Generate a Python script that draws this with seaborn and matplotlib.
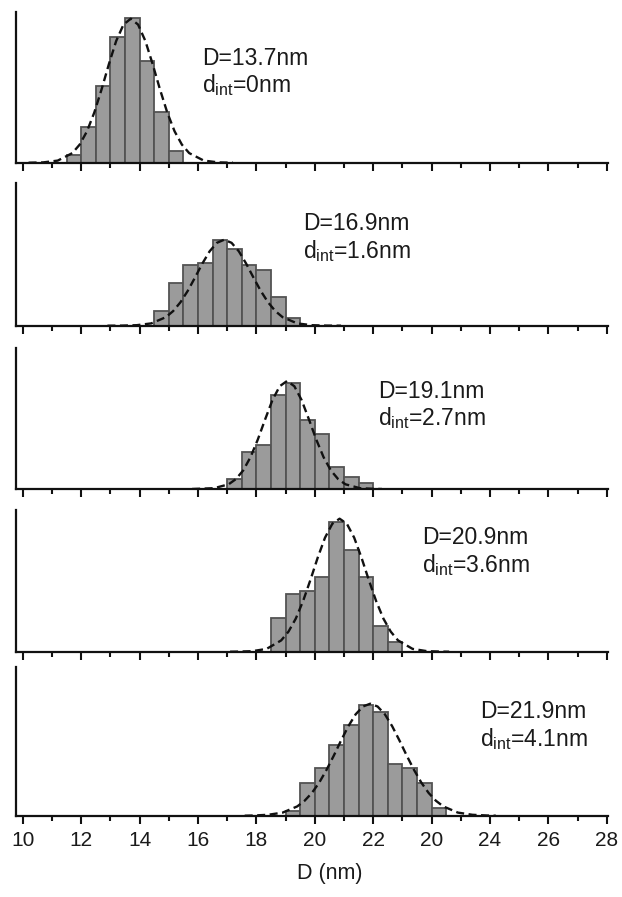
import numpy as np
import pandas as pd
import matplotlib
matplotlib.use("Agg")
import matplotlib.pyplot as plt
import seaborn as sns
from matplotlib.ticker import FixedLocator, MultipleLocator

# ---------------- data ----------------
bin_width = 0.5
# histogram bin centres (nm) and frequencies (arbitrary units)
p1_centers = [11.75, 12.25, 12.75, 13.25, 13.75, 14.25, 14.75, 15.25]
p1_freq = [7.7, 36.0, 76.7, 125.3, 144.3, 101.7, 51.0, 11.7]

p2_centers = [14.75, 15.25, 15.75, 16.25, 16.75, 17.25, 17.75, 18.25, 18.75, 19.25]
p2_freq = [14.7, 42.3, 60.7, 63.0, 85.7, 76.7, 60.7, 55.7, 28.3, 7.3]

p3_centers = [17.25, 17.75, 18.25, 18.75, 19.25, 19.75, 20.25, 20.75, 21.25, 21.75]
p3_freq = [9.7, 37.3, 44.0, 94.0, 105.7, 69.0, 55.0, 22.3, 12.3, 5.7]

p4_centers = [18.75, 19.25, 19.75, 20.25, 20.75, 21.25, 21.75, 22.25, 22.75]
p4_freq = [33.3, 57.7, 60.7, 75.0, 130.0, 101.7, 75.0, 26.0, 9.3]

p5_centers = [19.25, 19.75, 20.25, 20.75, 21.25, 21.75, 22.25, 22.75, 23.25, 23.75, 24.25]
p5_freq = [5.0, 32.3, 47.3, 70.7, 90.7, 110.7, 104.0, 51.3, 48.0, 32.3, 7.3]

# dashed fit curves
p1_fit_x = [10.2, 10.7, 11.2, 11.7, 11.95, 12.2, 12.45, 12.7, 12.95, 13.2, 13.45, 13.7,
            13.95, 14.2, 14.45, 14.7, 14.95, 15.2, 15.45, 15.7, 16.2, 16.7, 17.2]
p1_fit_y = [0.0, 0.3, 2.1, 9.6, 18.1, 31.4, 50.1, 73.3, 98.5, 121.7, 138.1, 144.0,
            138.1, 121.7, 98.5, 73.3, 50.1, 31.4, 18.1, 9.6, 2.1, 0.3, 0.0]

p2_fit_x = [12.9, 13.4, 13.9, 14.4, 14.9, 15.15, 15.4, 15.65, 15.9, 16.15, 16.4, 16.65, 16.9,
            17.15, 17.4, 17.65, 17.9, 18.15, 18.4, 18.65, 18.9, 19.4, 19.9, 20.4, 20.9]
p2_fit_y = [0.0, 0.1, 0.5, 2.3, 8.5, 14.6, 23.4, 34.8, 48.2, 62.1, 74.4, 82.9, 86.0,
            82.9, 74.4, 62.1, 48.2, 34.8, 23.4, 14.6, 8.5, 2.3, 0.5, 0.1, 0.0]

p3_fit_x = [15.8, 16.55, 17.05, 17.3, 17.55, 17.8, 18.05, 18.3, 18.55, 18.8, 19.05,
            19.3, 19.55, 19.8, 20.05, 20.3, 20.55, 20.8, 21.05, 21.55, 22.05, 22.3]
p3_fit_y = [0.0, 0.8, 4.7, 9.9, 18.6, 31.9, 49.5, 69.6, 88.9, 102.8, 108.0,
            102.8, 88.9, 69.6, 49.5, 31.9, 18.6, 9.9, 4.7, 0.8, 0.1, 0.0]

p4_fit_x = [17.1, 17.35, 17.85, 18.35, 18.85, 19.1, 19.35, 19.6, 19.85, 20.1, 20.35, 20.6, 20.85,
            21.1, 21.35, 21.6, 21.85, 22.1, 22.35, 22.6, 22.85, 23.35, 23.85, 24.35, 24.6]
p4_fit_y = [0.0, 0.1, 0.5, 2.8, 11.3, 20.1, 33.1, 50.7, 71.7, 94.0, 114.0, 127.9, 133.0,
            127.9, 114.0, 94.0, 71.7, 50.7, 33.1, 20.1, 11.3, 2.8, 0.5, 0.1, 0.0]

p5_fit_x = [17.6, 17.9, 18.4, 18.9, 19.4, 19.65, 19.9, 20.15, 20.4, 20.65, 20.9, 21.15, 21.4, 21.65,
            21.9, 22.15, 22.4, 22.65, 22.9, 23.15, 23.4, 23.65, 23.9, 24.15, 24.4, 24.9, 25.4,
            25.9, 26.2]
p5_fit_y = [0.0, 0.2, 0.9, 3.1, 9.3, 14.9, 22.7, 33.0, 45.7, 60.0, 75.2, 89.5, 101.4, 109.2,
            112.0, 109.2, 101.4, 89.5, 75.2, 60.0, 45.7, 33.0, 22.7, 14.9, 9.3, 3.1, 0.9,
            0.2, 0.0]

mean_labels = ["D=13.7nm", "D=16.9nm", "D=19.1nm", "D=20.9nm", "D=21.9nm"]
dint_labels = ["d$_{\\mathrm{int}}$=0nm", "d$_{\\mathrm{int}}$=1.6nm", "d$_{\\mathrm{int}}$=2.7nm",
               "d$_{\\mathrm{int}}$=3.6nm", "d$_{\\mathrm{int}}$=4.1nm"]

tick_positions = [10, 12, 14, 16, 18, 20, 22, 24, 26, 28, 30]
tick_labels = ["10", "12", "14", "16", "18", "20", "22", "20", "24", "26", "28"]
x_label = "D (nm)"

# ---------------- style ----------------
sns.set_style("ticks")
plt.rcParams["font.family"] = ["Liberation Sans", "DejaVu Sans"]
plt.rcParams["mathtext.fontset"] = "custom"
plt.rcParams["mathtext.rm"] = "Liberation Sans"
plt.rcParams["mathtext.it"] = "Liberation Sans:italic"
plt.rcParams["mathtext.bf"] = "Liberation Sans:bold"

W, H = 622, 897
fig = plt.figure(figsize=(W / 100, H / 100), dpi=100)

panel_top_px = [11.7, 183.3, 348.3, 510.0, 666.7]
panel_base_px = [162.7, 325.7, 489.0, 651.7, 815.7]
left_px, right_px = 16, 608
text_left_px = [201.7, 303.3, 378.3, 421.7, 480.0]
text_base1_px = [65.0, 230.0, 398.3, 544.3, 718.3]
text_base2_px = [91.7, 258.3, 425.0, 571.7, 746.0]

panels = [
    (p1_centers, p1_freq, p1_fit_x, p1_fit_y),
    (p2_centers, p2_freq, p2_fit_x, p2_fit_y),
    (p3_centers, p3_freq, p3_fit_x, p3_fit_y),
    (p4_centers, p4_freq, p4_fit_x, p4_fit_y),
    (p5_centers, p5_freq, p5_fit_x, p5_fit_y),
]

ink = "#111111"
txt = "#1a1a1a"
for i, (centers, freq, fx, fy) in enumerate(panels):
    top, base = panel_top_px[i], panel_base_px[i]
    ax = fig.add_axes([left_px / W, 1 - base / H, (right_px - left_px) / W, (base - top) / H])
    df = pd.DataFrame({"D": centers, "freq": freq})
    lo = centers[0] - bin_width / 2
    hi = centers[-1] + bin_width / 2
    sns.histplot(data=df, x="D", weights="freq", binwidth=bin_width, binrange=(lo, hi),
                 ax=ax, color="#9b9b9b", edgecolor="#535353", linewidth=1.3, alpha=1.0)
    fit_df = pd.DataFrame({"D": fx, "fit": fy})
    sns.lineplot(data=fit_df, x="D", y="fit", ax=ax, color=ink, linewidth=1.7,
                 linestyle=(0, (3.4, 1.9)))
    ax.set_xlim(9.77, 30.04)
    ax.set_ylim(0, base - top)
    ax.set_ylabel("")
    ax.set_xlabel("")
    ax.set_yticks([])
    for s in ["top", "right"]:
        ax.spines[s].set_visible(False)
    for s in ["left", "bottom"]:
        ax.spines[s].set_linewidth(1.6)
        ax.spines[s].set_color(ink)
    ax.xaxis.set_major_locator(FixedLocator(tick_positions))
    ax.xaxis.set_minor_locator(MultipleLocator(1))
    ax.tick_params(axis="x", which="major", length=5.8, width=1.5, color=ink,
                   direction="out", pad=5.5, labelsize=15, labelcolor=txt)
    ax.tick_params(axis="x", which="minor", length=3.6, width=1.5, color=ink, direction="out")
    if i == len(panels) - 1:
        ax.set_xticklabels(tick_labels)
        ax.set_xlabel(x_label, fontsize=15.5, color=txt)
        ax.xaxis.set_label_coords(0.53, -(873 - base) / (base - top))
        ax.xaxis.label.set_va("center")
    else:
        ax.tick_params(axis="x", labelbottom=False)

    fig.text(text_left_px[i] / W, 1 - text_base1_px[i] / H, mean_labels[i],
             fontsize=16.5, color=txt, ha="left", va="baseline")
    fig.text(text_left_px[i] / W, 1 - text_base2_px[i] / H, dint_labels[i],
             fontsize=16.5, color=txt, ha="left", va="baseline")

fig.savefig("out.png", dpi=100)
